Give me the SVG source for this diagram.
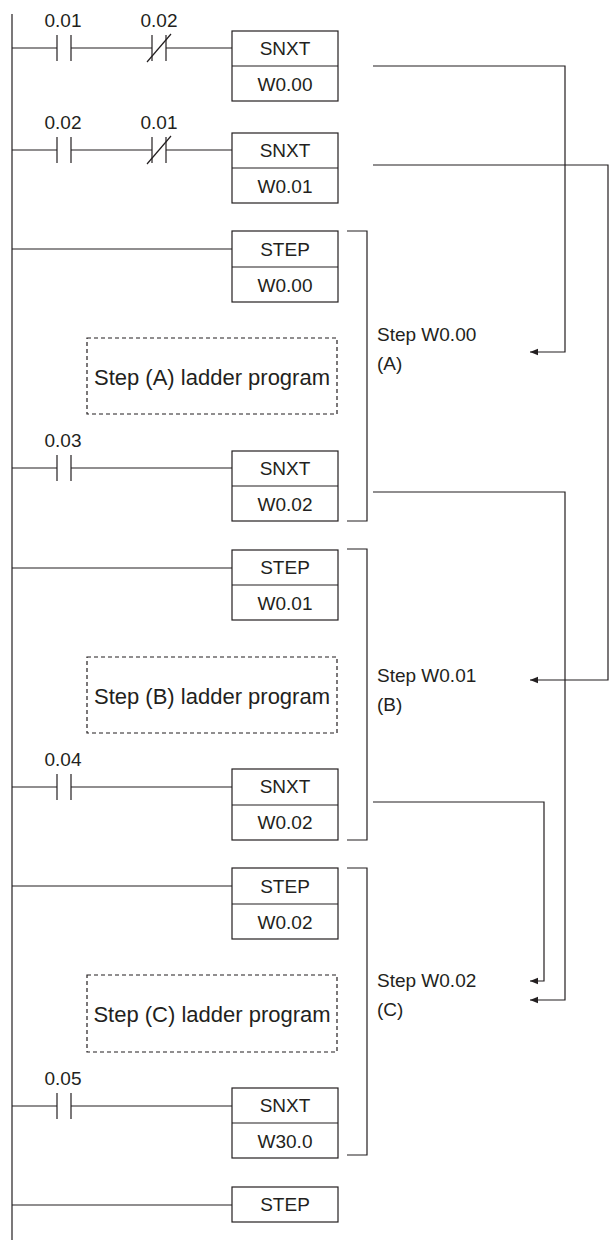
<svg xmlns="http://www.w3.org/2000/svg" width="612" height="1240" viewBox="0 0 612 1240">
<style>
line,path,rect{stroke:#231f20;stroke-width:1.2;fill:none}
rect{fill:#fff}
.d{stroke-dasharray:4 3}
text{font-family:"Liberation Sans",Arial,sans-serif;font-size:19px;fill:#231f20}
.c{text-anchor:middle}
.l{font-size:22px}
</style>
<defs>
<marker id="a" viewBox="0 0 10 10" refX="10" refY="5" markerWidth="13" markerHeight="8" markerUnits="userSpaceOnUse" orient="auto"><path d="M0,1 L10,5 L0,9 Z" style="fill:#231f20;stroke:none"/></marker>
</defs>
<line x1="12" y1="14" x2="12" y2="1240"/>
<g id="rung1">
<line x1="12" y1="48" x2="57" y2="48"/><line x1="57" y1="35" x2="57" y2="61"/><line x1="71" y1="35" x2="71" y2="61"/>
<line x1="71" y1="48" x2="152" y2="48"/><line x1="152" y1="35" x2="152" y2="61"/><line x1="166" y1="35" x2="166" y2="61"/><line x1="147" y1="62" x2="171" y2="34"/>
<line x1="166" y1="48" x2="232" y2="48"/>
<text x="63" y="27" class="c">0.01</text><text x="159" y="27" class="c">0.02</text>
<rect x="232" y="31" width="106" height="70"/><line x1="232" y1="66" x2="338" y2="66"/>
<text x="285" y="55" class="c">SNXT</text><text x="285" y="91" class="c">W0.00</text>
</g>
<g id="rung2">
<line x1="12" y1="150" x2="57" y2="150"/><line x1="57" y1="137" x2="57" y2="163"/><line x1="71" y1="137" x2="71" y2="163"/>
<line x1="71" y1="150" x2="152" y2="150"/><line x1="152" y1="137" x2="152" y2="163"/><line x1="166" y1="137" x2="166" y2="163"/><line x1="147" y1="164" x2="171" y2="136"/>
<line x1="166" y1="150" x2="232" y2="150"/>
<text x="63" y="129" class="c">0.02</text><text x="159" y="129" class="c">0.01</text>
<rect x="232" y="133" width="106" height="70"/><line x1="232" y1="168" x2="338" y2="168"/>
<text x="285" y="157" class="c">SNXT</text><text x="285" y="193" class="c">W0.01</text>
</g>
<g id="stepA">
<line x1="12" y1="249" x2="232" y2="249"/>
<rect x="232" y="231" width="106" height="71"/><line x1="232" y1="267" x2="338" y2="267"/>
<text x="285" y="256" class="c">STEP</text><text x="285" y="292" class="c">W0.00</text>
<rect class="d" x="87" y="338" width="250" height="76"/><text x="212" y="385" class="c l">Step (A) ladder program</text>
<line x1="12" y1="468" x2="57" y2="468"/><line x1="57" y1="455" x2="57" y2="481"/><line x1="71" y1="455" x2="71" y2="481"/><line x1="71" y1="468" x2="232" y2="468"/>
<text x="63" y="447" class="c">0.03</text>
<rect x="232" y="451" width="106" height="70"/><line x1="232" y1="486" x2="338" y2="486"/>
<text x="285" y="475" class="c">SNXT</text><text x="285" y="511" class="c">W0.02</text>
<path d="M347,231 H367 V521 H347"/>
<text x="377" y="341">Step W0.00</text><text x="377" y="370">(A)</text>
</g>
<g id="stepB">
<line x1="12" y1="568" x2="232" y2="568"/>
<rect x="232" y="550" width="106" height="70"/><line x1="232" y1="585" x2="338" y2="585"/>
<text x="285" y="574" class="c">STEP</text><text x="285" y="610" class="c">W0.01</text>
<rect class="d" x="87" y="657" width="250" height="76"/><text x="212" y="704" class="c l">Step (B) ladder program</text>
<line x1="12" y1="787" x2="57" y2="787"/><line x1="57" y1="774" x2="57" y2="800"/><line x1="71" y1="774" x2="71" y2="800"/><line x1="71" y1="787" x2="232" y2="787"/>
<text x="63" y="766" class="c">0.04</text>
<rect x="232" y="769" width="106" height="71"/><line x1="232" y1="805" x2="338" y2="805"/>
<text x="285" y="793" class="c">SNXT</text><text x="285" y="829" class="c">W0.02</text>
<path d="M347,549 H367 V840 H347"/>
<text x="377" y="682">Step W0.01</text><text x="377" y="711">(B)</text>
</g>
<g id="stepC">
<line x1="12" y1="886" x2="232" y2="886"/>
<rect x="232" y="868" width="106" height="71"/><line x1="232" y1="904" x2="338" y2="904"/>
<text x="285" y="893" class="c">STEP</text><text x="285" y="929" class="c">W0.02</text>
<rect class="d" x="87" y="975" width="250" height="77"/><text x="212" y="1022" class="c l">Step (C) ladder program</text>
<line x1="12" y1="1106" x2="57" y2="1106"/><line x1="57" y1="1093" x2="57" y2="1119"/><line x1="71" y1="1093" x2="71" y2="1119"/><line x1="71" y1="1106" x2="232" y2="1106"/>
<text x="63" y="1085" class="c">0.05</text>
<rect x="232" y="1088" width="106" height="70"/><line x1="232" y1="1123" x2="338" y2="1123"/>
<text x="285" y="1112" class="c">SNXT</text><text x="285" y="1148" class="c">W30.0</text>
<path d="M347,868 H367 V1155 H347"/>
<text x="377" y="987">Step W0.02</text><text x="377" y="1016">(C)</text>
</g>
<g id="stepEnd">
<line x1="12" y1="1205" x2="232" y2="1205"/>
<rect x="232" y="1187" width="106" height="35"/>
<text x="285" y="1211" class="c">STEP</text>
</g>
<g id="connectors">
<path d="M373,66 H565 V352 H530" marker-end="url(#a)"/>
<path d="M373,165 H608 V680 H530" marker-end="url(#a)"/>
<path d="M373,492 H565 V1000 H530" marker-end="url(#a)"/>
<path d="M373,802 H544 V981 H530" marker-end="url(#a)"/>
</g>
</svg>
